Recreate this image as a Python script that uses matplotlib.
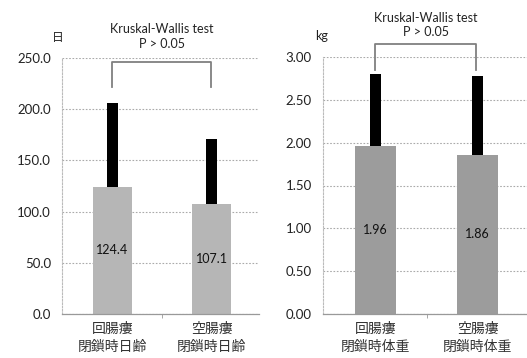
import matplotlib
matplotlib.use("Agg")
import matplotlib.pyplot as plt

plt.rcParams['font.family'] = ['Lato', 'Noto Sans CJK JP', 'DejaVu Sans']

# Age at closure (days)
age_categories = ["回腸瘻\n閉鎖時日齢", "空腸瘻\n閉鎖時日齢"]
age_mean = [124.4, 107.1]
age_sd = [81.6, 63.9]
age_ticks = [0, 50, 100, 150, 200, 250]

# Body weight at closure (kg)
wt_categories = ["回腸瘻\n閉鎖時体重", "空腸瘻\n閉鎖時体重"]
wt_mean = [1.96, 1.86]
wt_sd = [0.84, 0.92]
wt_ticks = [0.0, 0.5, 1.0, 1.5, 2.0, 2.5, 3.0]

test_label = "Kruskal-Wallis test\nP > 0.05"

W, H = 527, 358
fig = plt.figure(figsize=(W / 100, H / 100), dpi=100)


def px_axes(x0, y_top, x1, y_bot):
    return fig.add_axes([x0 / W, 1 - y_bot / H, (x1 - x0) / W, (y_bot - y_top) / H])


def draw_panel(ax, cats, means, sds, ticks, fmt, bar_color, bracket, title_y):
    x = list(range(len(cats)))
    ax.set_xlim(-0.51, 1.48)
    ax.set_ylim(ticks[0], ticks[-1])
    ax.bar(x, means, width=0.40, color=bar_color, zorder=2)
    ax.bar(x, sds, bottom=means, width=0.11, color="black", zorder=3)
    for xi, m in zip(x, means):
        ax.text(xi, m / 2, fmt.format(m), ha="center", va="center",
                fontsize=9, color="#111111", zorder=4)
    ax.set_yticks(ticks)
    ax.set_yticklabels([fmt.format(t) for t in ticks], fontsize=9.5, color="#222222")
    ax.set_xticks(x)
    ax.set_xticklabels(cats, fontsize=10, color="#333333",
                       family=['Noto Sans CJK JP', 'DejaVu Sans'], linespacing=1.3)
    ax.set_xticks([0.5], minor=True)
    ax.tick_params(axis="x", which="major", length=0, pad=6)
    ax.tick_params(axis="x", which="minor", length=3, color="#999999")
    ax.tick_params(axis="y", length=0, pad=8)
    ax.yaxis.grid(True, linestyle=(0, (1.5, 1.5)), color="#aaaaaa", linewidth=0.8, zorder=0)
    ax.set_axisbelow(True)
    for s in ("top", "right"):
        ax.spines[s].set_visible(False)
    ax.spines["left"].set_color("#bbbbbb")
    ax.spines["left"].set_linestyle((0, (1.5, 1.5)))
    ax.spines["left"].set_linewidth(0.8)
    ax.spines["bottom"].set_color("#999999")
    ax.spines["bottom"].set_linewidth(0.9)
    # significance bracket
    bx0, bx1, by_top, by_bot = bracket
    ax.plot([bx0, bx0, bx1, bx1], [by_bot, by_top, by_top, by_bot],
            color="#808080", linewidth=1.3, solid_joinstyle="round",
            clip_on=False, zorder=5)
    ax.text((bx0 + bx1) / 2, title_y, test_label, ha="center", va="bottom",
            fontsize=9, color="#222222", linespacing=1.25, clip_on=False)


ax1 = px_axes(62, 58, 259, 314)
draw_panel(ax1, age_categories, age_mean, age_sd, age_ticks, "{:.1f}", "#b6b6b6",
           (0.0, 1.0, 246, 222), 258)

ax2 = px_axes(323, 57, 527, 314)
draw_panel(ax2, wt_categories, wt_mean, wt_sd, wt_ticks, "{:.2f}", "#9c9c9c",
           (0.0, 0.98, 3.15, 2.85), 3.22)

fig.text(58 / W, 1 - 38 / H, "日", ha="center", va="center", fontsize=8.5,
         family=['Noto Sans CJK JP', 'DejaVu Sans'], color="#222222")
fig.text(322 / W, 1 - 36 / H, "kg", ha="center", va="center", fontsize=9,
         color="#222222")

fig.savefig("out.png", dpi=100, facecolor="white")
